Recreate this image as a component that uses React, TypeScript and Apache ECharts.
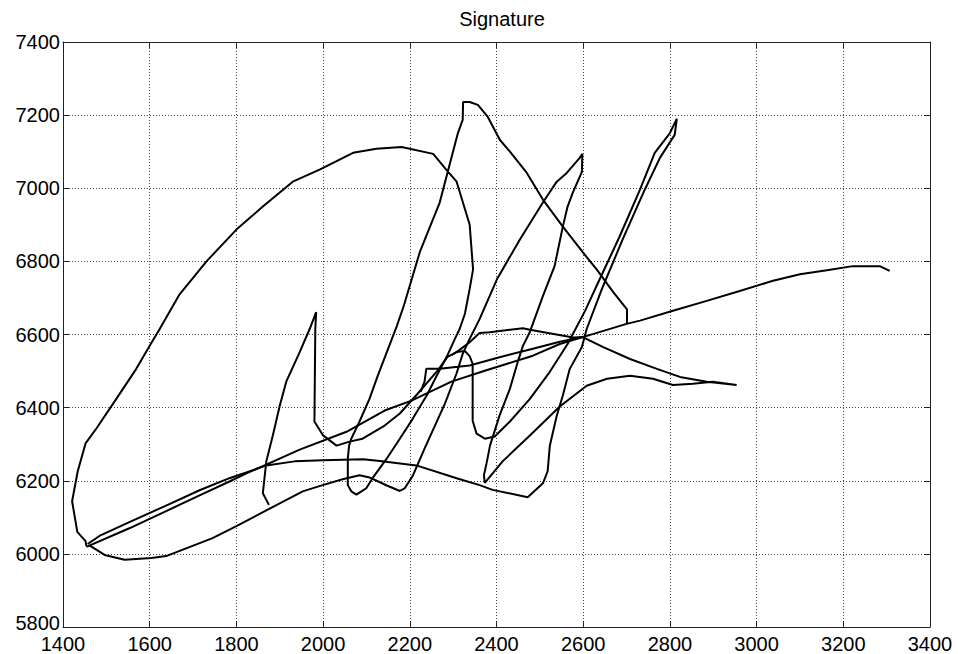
import React, { useEffect, useRef } from 'react';
import * as echarts from 'echarts';

// Signature strokes, in data units (x, y)
const loopStroke: [number, number][] = [
  [1454, 6021], [1452, 6035], [1433, 6060], [1421, 6144], [1434, 6226], [1452, 6302], [1477, 6343],
  [1523, 6424], [1569, 6506], [1600, 6569], [1623, 6615], [1669, 6710], [1731, 6800], [1800, 6887],
  [1861, 6950], [1930, 7018], [1992, 7051], [2069, 7097], [2123, 7108], [2181, 7113], [2254, 7094],
  [2284, 7051], [2308, 7018], [2338, 6901], [2346, 6778], [2338, 6724], [2327, 6656], [2315, 6615],
  [2304, 6588], [2286, 6541], [2262, 6487], [2239, 6433], [2207, 6370], [2177, 6315], [2147, 6261],
  [2114, 6207], [2100, 6180], [2077, 6162], [2065, 6171], [2057, 6188], [2057, 6261], [2060, 6296],
  [2065, 6315], [2084, 6362], [2107, 6424], [2126, 6487], [2147, 6552], [2170, 6623], [2186, 6678],
  [2223, 6825], [2269, 6961], [2293, 7070], [2311, 7151], [2322, 7187], [2323, 7236], [2338, 7236],
  [2357, 7228], [2380, 7195], [2408, 7132], [2431, 7100], [2470, 7042], [2507, 6969], [2553, 6895],
  [2599, 6825], [2631, 6778], [2668, 6718], [2701, 6669], [2701, 6631],
];

const spikeStroke: [number, number][] = [
  [1875, 6134], [1861, 6166], [1869, 6253], [1884, 6324], [1900, 6405], [1915, 6471], [1946, 6552],
  [1969, 6615], [1984, 6661], [1982, 6615], [1980, 6362], [2000, 6324], [2031, 6296], [2061, 6307],
  [2091, 6315], [2142, 6351], [2177, 6384], [2218, 6438], [2264, 6501], [2287, 6539], [2308, 6552],
  [2327, 6555], [2338, 6541], [2345, 6520], [2345, 6364], [2354, 6329], [2373, 6315], [2396, 6321],
  [2431, 6362], [2477, 6424], [2523, 6498], [2564, 6574], [2604, 6664], [2638, 6751], [2684, 6868],
  [2731, 6996], [2765, 7097], [2800, 7151], [2816, 7190], [2811, 7146], [2777, 7083], [2742, 6996],
  [2691, 6860], [2643, 6724], [2608, 6615], [2597, 6566], [2569, 6506], [2553, 6433], [2539, 6378],
  [2523, 6296], [2518, 6226], [2507, 6193], [2472, 6155], [2391, 6175], [2361, 6188], [2308, 6207],
  [2215, 6242], [2131, 6254], [2092, 6259], [2000, 6256], [1934, 6253], [1869, 6242], [1823, 6223],
  [1784, 6207], [1715, 6174], [1634, 6130], [1553, 6087], [1484, 6049], [1457, 6027],
];

const hookStroke: [number, number][] = [
  [2225, 6443], [2234, 6471], [2238, 6506], [2269, 6506], [2338, 6515], [2407, 6538], [2484, 6561],
  [2546, 6580], [2599, 6593], [2645, 6566], [2708, 6533], [2770, 6506], [2823, 6484], [2885, 6471],
  [2954, 6462], [2899, 6471], [2853, 6465], [2807, 6462], [2761, 6479], [2708, 6487], [2655, 6479],
  [2608, 6460], [2546, 6403], [2477, 6324], [2414, 6253], [2373, 6194], [2371, 6215], [2378, 6253],
  [2385, 6296], [2407, 6378], [2431, 6452], [2449, 6525], [2461, 6569], [2477, 6607], [2507, 6705],
  [2534, 6787], [2553, 6895], [2564, 6950], [2576, 6988], [2597, 7045], [2598, 7094], [2592, 7083],
  [2562, 7042], [2539, 7018], [2507, 6961], [2454, 6860], [2401, 6751], [2361, 6642], [2338, 6588],
  [2322, 6547], [2308, 6494], [2281, 6411], [2234, 6288], [2207, 6214], [2188, 6179], [2177, 6172],
  [2147, 6187], [2107, 6209], [2084, 6215], [2045, 6204], [1999, 6188], [1953, 6171], [1869, 6119],
  [1800, 6076], [1745, 6043], [1638, 5994], [1604, 5989], [1542, 5984], [1496, 5997], [1461, 6023],
];

const arcStroke: [number, number][] = [
  [2599, 6593], [2577, 6592], [2477, 6613], [2461, 6617], [2384, 6606], [2361, 6604], [2338, 6579],
  [2315, 6558], [2297, 6544],
];

const longStroke: [number, number][] = [
  [1454, 6019], [1553, 6070], [1638, 6117], [1715, 6160], [1784, 6198], [1823, 6220], [1946, 6285],
  [2054, 6334], [2142, 6392], [2204, 6419], [2296, 6471], [2373, 6501], [2484, 6542], [2546, 6574],
  [2599, 6593], [2622, 6601], [2700, 6629], [2731, 6638], [2807, 6665], [2885, 6692], [2961, 6719],
  [3038, 6747], [3100, 6765], [3162, 6776], [3222, 6787], [3284, 6787], [3307, 6774],
];

const xMin = 1400;
const xMax = 3400;
const yMin = 5800;
const yMax = 7400;
const step = 200;
const titleText = 'Signature';

export default function App() {
  const ref = useRef<HTMLDivElement>(null);
  useEffect(() => {
    const chart = echarts.init(ref.current!, null, { renderer: 'svg' });
    const font = "'Liberation Sans', Arial, sans-serif";
    const axisColor = '#222';
    const lineStyle = { color: '#000', width: 2 };
    const fmtX = (v: number) => String(v);
    const fmtY = (v: number) => (v === yMin ? '{low|' + v + '}' : String(v));
    const mk = (name: string, data: [number, number][]) => ({
      name,
      type: 'line',
      data,
      showSymbol: false,
      symbol: 'none',
      lineStyle,
      silent: true,
      z: 3,
    });
    const baseX = {
      type: 'value',
      min: xMin,
      max: xMax,
      interval: step,
    };
    const baseY = {
      type: 'value',
      min: yMin,
      max: yMax,
      interval: step,
    };
    chart.setOption({
      animation: false,
      backgroundColor: '#fff',
      title: {
        text: titleText,
        left: 497,
        top: 4,
        textAlign: 'center',
        textStyle: { fontFamily: font, fontSize: 20, fontWeight: 'normal', color: '#000' },
      },
      grid: { left: 63, top: 42, width: 867, height: 587, show: false },
      xAxis: [
        {
          ...baseX,
          position: 'bottom',
          axisLine: { show: true, onZero: false, lineStyle: { color: axisColor, width: 1 } },
          axisTick: { show: true, inside: true, length: 6, lineStyle: { color: axisColor } },
          axisLabel: {
            margin: 9, fontSize: 20, lineHeight: 16, color: '#000', fontFamily: font,
            showMinLabel: true, showMaxLabel: true, formatter: fmtX,
          },
          splitLine: { show: true, lineStyle: { color: '#444', width: 1, type: [1, 2] } },
        },
        {
          ...baseX,
          position: 'top',
          axisLine: { show: true, onZero: false, lineStyle: { color: axisColor, width: 1 } },
          axisTick: { show: true, inside: true, length: 6, lineStyle: { color: axisColor } },
          axisLabel: { show: false },
          splitLine: { show: false },
        },
      ],
      yAxis: [
        {
          ...baseY,
          position: 'left',
          axisLine: { show: true, onZero: false, lineStyle: { color: axisColor, width: 1 } },
          axisTick: { show: true, inside: true, length: 6, lineStyle: { color: axisColor } },
          axisLabel: {
            margin: 3, fontSize: 20, lineHeight: 16, color: '#000', fontFamily: font,
            showMinLabel: true, showMaxLabel: true, formatter: fmtY,
            rich: {
              low: { fontSize: 20, lineHeight: 16, color: '#000', fontFamily: font, padding: [0, 0, 8, 0] },
            },
          },
          splitLine: { show: true, lineStyle: { color: '#444', width: 1, type: [1, 2] } },
        },
        {
          ...baseY,
          position: 'right',
          axisLine: { show: true, onZero: false, lineStyle: { color: axisColor, width: 1 } },
          axisTick: { show: true, inside: true, length: 6, lineStyle: { color: axisColor } },
          axisLabel: { show: false },
          splitLine: { show: false },
        },
      ],
      series: [
        mk('loop', loopStroke),
        mk('spike', spikeStroke),
        mk('hook', hookStroke),
        mk('arc', arcStroke),
        mk('long', longStroke),
      ],
    });
    return () => chart.dispose();
  }, []);
  return (
    <div
      ref={ref}
      style={{ position: 'fixed', left: 0, top: 0, width: 958, height: 654, background: '#fff' }}
    />
  );
}
